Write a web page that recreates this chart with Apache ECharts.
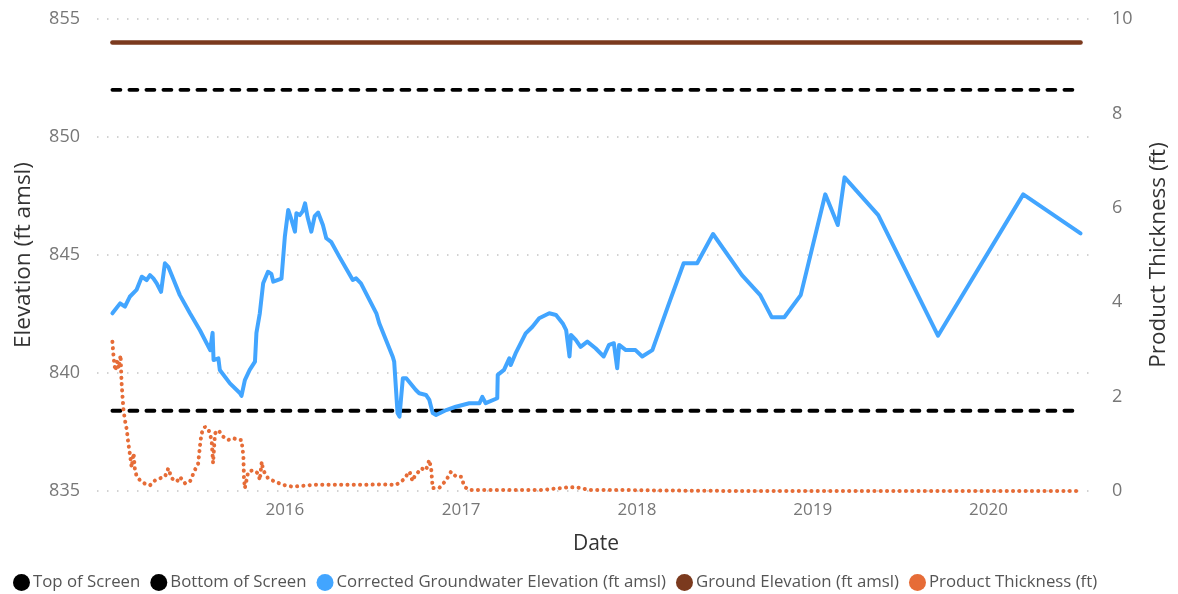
<!DOCTYPE html>
<html><head><meta charset="utf-8">
<script src="https://cdn.jsdelivr.net/npm/echarts@6/dist/echarts.min.js"></script>
<style>html,body{margin:0;padding:0;background:#fff}#c{width:1178px;height:594px}</style>
</head><body><div id="c"></div>
<script>
const seriesNames = ['Top of Screen','Bottom of Screen','Corrected Groundwater Elevation (ft amsl)','Ground Elevation (ft amsl)','Product Thickness (ft)'];
const startDate = '2015-01-08';
const endDate = '2020-07-10';
const topOfScreen = 852;
const bottomOfScreen = 838.4;
const groundElevation = 854;
const yearTicks = [2016, 2017, 2018, 2019, 2020];

const groundwater = [
['2015-01-08',842.53],['2015-01-24',842.95],['2015-02-03',842.81],['2015-02-13',843.23],['2015-02-27',843.52],
['2015-03-10',844.08],['2015-03-20',843.94],['2015-03-27',844.15],['2015-04-03',844.01],['2015-04-10',843.8],
['2015-04-19',843.44],['2015-04-27',844.65],['2015-05-04',844.5],['2015-05-14',844.0],['2015-05-28',843.3],
['2015-06-18',842.53],['2015-07-09',841.8],['2015-07-30',840.97],['2015-08-04',841.7],['2015-08-06',840.55],
['2015-08-16',840.62],['2015-08-19',840.13],['2015-09-09',839.56],['2015-09-30',839.14],['2015-10-03',839.03],
['2015-10-10',839.7],['2015-10-20',840.13],['2015-10-31',840.48],['2015-11-03',841.7],['2015-11-10',842.53],
['2015-11-17',843.8],['2015-11-27',844.29],['2015-12-04',844.2],['2015-12-08',843.87],['2015-12-25',844.0],
['2016-01-01',845.78],['2016-01-08',846.91],['2016-01-15',846.48],['2016-01-22',845.99],['2016-01-25',846.77],
['2016-02-01',846.69],['2016-02-07',846.85],['2016-02-12',847.19],['2016-02-17',846.62],['2016-02-25',845.99],
['2016-03-03',846.65],['2016-03-10',846.8],['2016-03-20',846.27],['2016-03-27',845.71],['2016-04-06',845.56],
['2016-04-23',844.93],['2016-05-21',843.94],['2016-05-28',844.01],['2016-06-07',843.8],['2016-07-09',842.53],
['2016-07-15',842.11],['2016-08-12',840.69],['2016-08-15',840.48],['2016-08-22',838.3],['2016-08-26',838.15],
['2016-08-29',838.86],['2016-09-02',839.78],['2016-09-09',839.78],['2016-09-29',839.28],['2016-10-06',839.14],
['2016-10-20',839.07],['2016-10-27',838.86],['2016-11-03',838.3],['2016-11-10',838.22],['2016-12-01',838.43],
['2016-12-21',838.57],['2017-01-18',838.72],['2017-02-08',838.72],['2017-02-14',838.99],['2017-02-21',838.72],
['2017-03-17',838.93],['2017-03-18',839.92],['2017-03-31',840.13],['2017-04-11',840.62],['2017-04-14',840.34],
['2017-04-24',840.83],['2017-05-15',841.68],['2017-05-29',841.96],['2017-06-12',842.32],['2017-07-03',842.53],
['2017-07-17',842.46],['2017-07-31',842.1],['2017-08-07',841.82],['2017-08-14',840.7],['2017-08-17',841.61],
['2017-08-27',841.4],['2017-09-06',841.11],['2017-09-20',841.33],['2017-10-07',841.05],['2017-10-24',840.7],
['2017-11-04',841.19],['2017-11-14',841.26],['2017-11-21',840.2],['2017-11-25',841.19],['2017-12-09',840.97],
['2017-12-29',840.97],['2018-01-12',840.7],['2018-02-02',840.97],['2018-03-08',842.92],['2018-04-08',844.65],
['2018-05-06',844.65],['2018-06-08',845.89],['2018-08-07',844.15],['2018-09-14',843.3],['2018-10-08',842.36],
['2018-11-03',842.36],['2018-12-07',843.3],['2019-01-27',847.57],['2019-02-22',846.27],['2019-03-08',848.29],
['2019-05-17',846.69],['2019-09-18',841.58],['2020-03-13',847.57],['2020-07-10',845.92]
];

const productThickness = [
['2015-01-08',3.16],['2015-01-11',2.78],['2015-01-14',2.55],['2015-01-18',2.75],['2015-01-21',2.6],
['2015-01-25',2.88],['2015-01-27',2.3],['2015-01-29',2.0],['2015-01-31',1.72],['2015-02-03',1.5],
['2015-02-07',1.29],['2015-02-10',1.01],['2015-02-14',0.73],['2015-02-17',0.5],['2015-02-21',0.8],
['2015-02-24',0.42],['2015-02-28',0.3],['2015-03-07',0.22],['2015-03-17',0.15],['2015-03-27',0.12],
['2015-04-07',0.23],['2015-04-17',0.27],['2015-04-27',0.3],['2015-05-04',0.48],['2015-05-11',0.27],
['2015-05-22',0.2],['2015-05-28',0.3],['2015-06-08',0.16],['2015-06-18',0.2],['2015-06-28',0.44],
['2015-07-05',0.58],['2015-07-09',0.97],['2015-07-12',1.22],['2015-07-19',1.36],['2015-07-26',1.32],
['2015-08-02',1.08],['2015-08-05',0.59],['2015-08-09',1.22],['2015-08-16',1.29],['2015-08-26',1.15],
['2015-09-05',1.08],['2015-09-16',1.12],['2015-09-26',1.08],['2015-10-03',1.08],['2015-10-07',0.73],
['2015-10-08',0.3],['2015-10-10',0.06],['2015-10-17',0.41],['2015-10-27',0.44],['2015-11-07',0.37],
['2015-11-10',0.23],['2015-11-14',0.62],['2015-11-17',0.44],['2015-11-27',0.27],['2015-12-11',0.2],
['2015-12-28',0.13],['2016-01-18',0.09],['2016-02-28',0.13],['2016-04-03',0.13],['2016-05-08',0.13],
['2016-06-11',0.13],['2016-07-16',0.14],['2016-08-19',0.13],['2016-09-02',0.23],['2016-09-16',0.41],
['2016-09-22',0.21],['2016-09-26',0.3],['2016-10-10',0.48],['2016-10-20',0.44],['2016-10-27',0.66],
['2016-10-31',0.45],['2016-11-03',0.06],['2016-11-17',0.07],['2016-12-01',0.23],['2016-12-11',0.41],
['2016-12-22',0.3],['2017-01-01',0.3],['2017-01-08',0.09],['2017-01-18',0.02],['2017-04-01',0.02],
['2017-06-15',0.02],['2017-07-25',0.06],['2017-08-15',0.08],['2017-09-03',0.07],['2017-09-25',0.02],
['2017-12-15',0.02],['2018-03-01',0.01],['2018-08-01',0.0],['2019-03-08',0.0],['2020-07-10',0.0]
];

const ts = s => { const p = s.split('-').map(Number); return new Date(p[0], p[1]-1, p[2]).getTime(); };
const toXY = arr => arr.map(d => [ts(d[0]), d[1]]);
const yearTickValues = yearTicks.map(y => new Date(y, 0, 1).getTime());
const flat = v => [[ts(startDate), v], [ts(endDate), v]];

const FONT = 'Open Sans';
const chart = echarts.init(document.getElementById('c'));
chart.setOption({
  animation: false,
  textStyle: { fontFamily: FONT },
  grid: { left: 97, right: 81, top: 19, bottom: 103, containLabel: false },
  legend: {
    data: seriesNames, icon: 'circle', left: 8, top: 569, itemWidth: 17, itemHeight: 17, itemGap: 10,
    textStyle: { fontFamily: FONT, fontSize: 16.8, color: '#555', padding: [0, 0, 0, -2] }
  },
  xAxis: {
    type: 'value', min: ts('2014-12-07'), max: ts('2020-08-09'),
    name: 'Date', nameLocation: 'middle', nameGap: 43,
    nameTextStyle: { fontFamily: FONT, fontSize: 21, color: '#333' },
    axisLine: { show: false }, axisTick: { show: false }, splitLine: { show: false },
    axisLabel: { customValues: yearTickValues, formatter: v => String(new Date(v).getFullYear()),
      fontSize: 17, color: '#777', margin: 11 }
  },
  yAxis: [{
    type: 'value', min: 835, max: 855, interval: 5,
    name: 'Elevation (ft amsl)', nameLocation: 'middle', nameGap: 62,
    nameTextStyle: { fontFamily: FONT, fontSize: 22.5, color: '#333' },
    axisLine: { show: false }, axisTick: { show: false },
    axisLabel: { fontSize: 18, color: '#777', margin: 17 },
    splitLine: { show: true, lineStyle: { color: '#c4c4c4', type: [1.5, 8.5], width: 1.5 } }
  }, {
    type: 'value', min: 0, max: 10, interval: 2,
    name: 'Product Thickness (ft)', nameLocation: 'middle', nameGap: 52,
    nameTextStyle: { fontFamily: FONT, fontSize: 22.5, color: '#333' },
    axisLine: { show: false }, axisTick: { show: false },
    axisLabel: { fontSize: 18, color: '#777', margin: 17 },
    splitLine: { show: false }
  }],
  series: [
    { name: seriesNames[0], type: 'line', yAxisIndex: 0, data: flat(topOfScreen), symbol: 'none',
      itemStyle: { color: '#000' }, lineStyle: { color: '#000', width: 3.8, type: [8, 9], cap: 'round' }, z: 2 },
    { name: seriesNames[1], type: 'line', yAxisIndex: 0, data: flat(bottomOfScreen), symbol: 'none',
      itemStyle: { color: '#000' }, lineStyle: { color: '#000', width: 3.8, type: [8, 9], cap: 'round' }, z: 2 },
    { name: seriesNames[2], type: 'line', yAxisIndex: 0, data: toXY(groundwater), symbol: 'none',
      itemStyle: { color: '#42A5FF' }, lineStyle: { color: '#42A5FF', width: 4, join: 'round', cap: 'round' }, z: 4 },
    { name: seriesNames[3], type: 'line', yAxisIndex: 0, data: flat(groundElevation), symbol: 'none',
      itemStyle: { color: '#7B3A1E' }, lineStyle: { color: '#7B3A1E', width: 4.5, cap: 'round' }, z: 3 },
    { name: seriesNames[4], type: 'line', yAxisIndex: 1, data: toXY(productThickness), symbol: 'none',
      itemStyle: { color: '#E66C37' }, lineStyle: { color: '#E66C37', width: 4, type: [0.1, 6.2], cap: 'round' }, z: 3 }
  ]
});
</script>
</body></html>
